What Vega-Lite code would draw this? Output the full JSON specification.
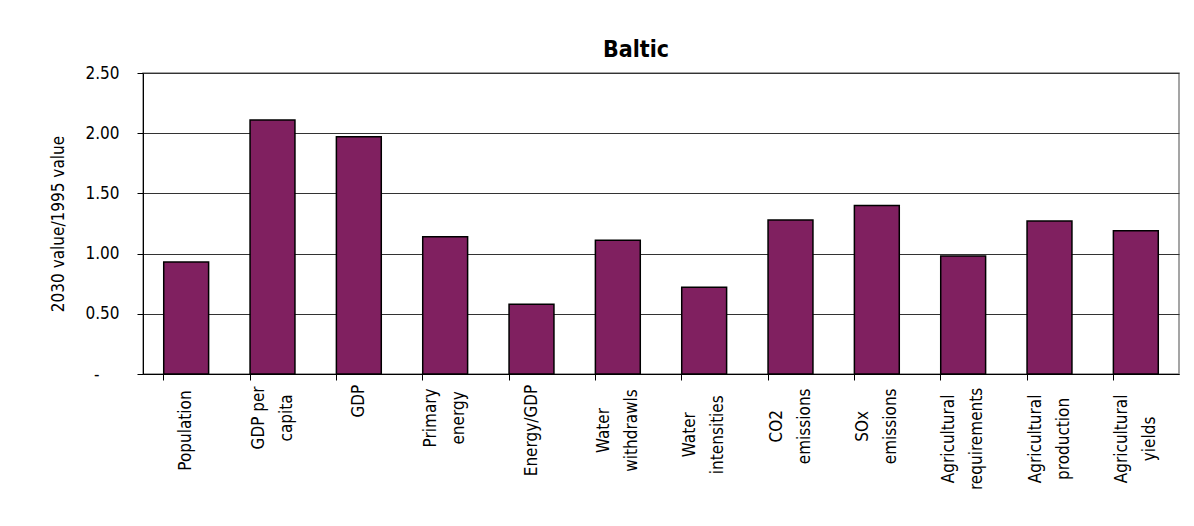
{
  "$schema": "https://vega.github.io/schema/vega-lite/v6.json",
  "autosize": {"type": "none"},
  "width": 1036,
  "height": 301,
  "padding": {"left": 143, "top": 73, "right": 15, "bottom": 152},
  "background": "white",
  "title": {
    "text": "Baltic",
    "anchor": "middle",
    "frame": "group",
    "font": "DejaVu Sans Condensed, Roboto",
    "fontSize": 23,
    "fontWeight": "bold",
    "color": "black",
    "baseline": "alphabetic",
    "offset": -16,
    "dx": -25
  },
  "data": {
    "values": [
      {"label": "Population", "value": 0.93},
      {"label": "GDP per|capita", "value": 2.11},
      {"label": "GDP", "value": 1.97},
      {"label": "Primary|energy", "value": 1.14},
      {"label": "Energy/GDP", "value": 0.58},
      {"label": "Water|withdrawls", "value": 1.11},
      {"label": "Water|intensities", "value": 0.72},
      {"label": "CO2|emissions", "value": 1.28},
      {"label": "SOx|emissions", "value": 1.40},
      {"label": "Agricultural|requirements", "value": 0.98},
      {"label": "Agricultural|production", "value": 1.27},
      {"label": "Agricultural|yields", "value": 1.19}
    ]
  },
  "mark": {"type": "bar", "fill": "#802060", "stroke": "black", "strokeWidth": 1.5},
  "encoding": {
    "x": {
      "field": "label",
      "type": "nominal",
      "sort": null,
      "scale": {"paddingInner": 0.48, "paddingOuter": 0.24},
      "axis": {
        "title": null,
        "labelExpr": "split(datum.label, '|')",
        "labelAngle": -90,
        "labelAlign": "center",
        "labelBaseline": "middle",
        "labelLineHeight": 28,
        "labelOffset": {"expr": "indexof(datum.value, '|') >= 0 ? -14 : 0"},
        "labelPadding": {"expr": "8 + 4.2 * max(length(split(datum.value, '|')[0]), indexof(datum.value, '|') >= 0 ? length(split(datum.value, '|')[1]) : 0)"},
        "tickSize": 6,
        "bandPosition": 0,
        "labelFont": "DejaVu Sans Condensed, Roboto",
        "labelFontSize": 17,
        "labelColor": "black",
        "domainColor": "black",
        "tickColor": "black",
        "grid": false
      }
    },
    "y": {
      "field": "value",
      "type": "quantitative",
      "scale": {"domain": [0, 2.5], "nice": false},
      "axis": {
        "title": "2030 value/1995 value",
        "values": [0, 0.5, 1, 1.5, 2, 2.5],
        "labelExpr": "datum.value == 0 ? '-' : format(datum.value, '.2f')",
        "labelFont": "DejaVu Sans Condensed, Roboto",
        "labelFontSize": 17,
        "labelColor": "black",
        "labelPadding": {"expr": "datum.value == 0 ? 38 : 18"},
        "tickSize": 6,
        "tickColor": "black",
        "domainColor": "black",
        "gridColor": "#333333",
        "gridOpacity": 1,
        "titleFont": "DejaVu Sans Condensed, Roboto",
        "titleFontSize": 17,
        "titleFontWeight": "normal",
        "titleColor": "black",
        "titlePadding": 17
      }
    }
  },
  "config": {
    "view": {"stroke": "#888888", "strokeWidth": 1.5}
  }
}
